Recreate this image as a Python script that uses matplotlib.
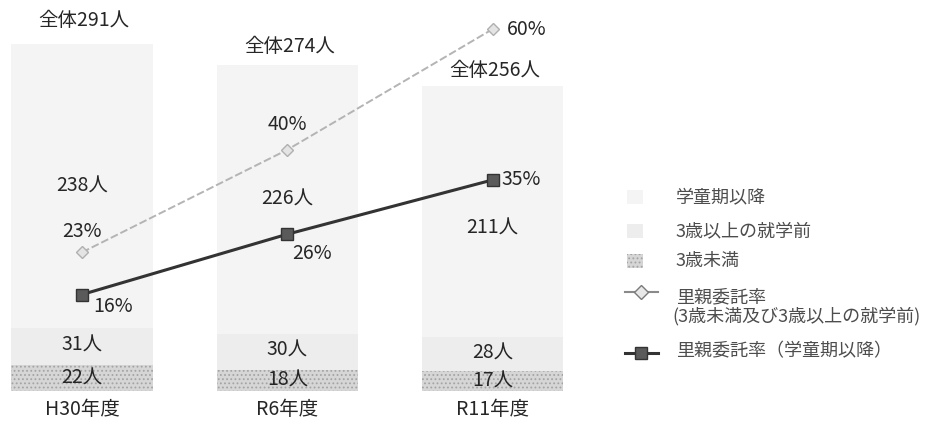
import numpy as np
import matplotlib.pyplot as plt
from matplotlib.patches import Rectangle
from matplotlib.lines import Line2D

plt.rcParams['font.family'] = ['Noto Sans CJK JP', 'DejaVu Sans']
plt.rcParams['hatch.linewidth'] = 0.8

# DATA
years = ['H30年度', 'R6年度', 'R11年度']
under3 = [22, 18, 17]          # 3歳未満
preschool = [31, 30, 28]       # 3歳以上の就学前
school = [238, 226, 211]       # 学童期以降
totals = [291, 274, 256]
rate_young = [23, 40, 60]      # 里親委託率(3歳未満及び3歳以上の就学前)
rate_school = [16, 26, 35]     # 里親委託率(学童期以降)

W, H = 944, 428
x = np.arange(len(years))
txt = '#262626'

fig = plt.figure(figsize=(W / 100, H / 100), dpi=100)
ax = fig.add_axes([0, 37 / H, 585 / W, 386 / H])
ax.set_xlim(-0.4, 2.45)
ax.set_ylim(0, 324)

bw = 0.69
ax.bar(x, under3, width=bw, color='#d6d6d6', edgecolor='#a4a4a4', linewidth=0, hatch='....')
ax.bar(x, preschool, width=bw, bottom=under3, color='#ededed', linewidth=0)
bottom2 = np.array(under3) + np.array(preschool)
ax.bar(x, school, width=bw, bottom=bottom2, color='#f4f4f4', linewidth=0)

# segment labels
for i in range(len(x)):
    ax.text(x[i], under3[i] / 2, f'{under3[i]}人', ha='center', va='center', fontsize=14, color=txt)
    ax.text(x[i], under3[i] + preschool[i] / 2 + 1, f'{preschool[i]}人', ha='center', va='center',
            fontsize=14, color=txt)
top_shift = [0, 0, -16]
for i in range(len(x)):
    ax.annotate(f'{school[i]}人', (x[i], bottom2[i] + school[i] / 2), xytext=(0, top_shift[i]),
                textcoords='offset pixels', ha='center', va='center', fontsize=14, color=txt)
tot_shift = [24, 18, 16]
for i in range(len(x)):
    ax.annotate(f'全体{totals[i]}人', (x[i], totals[i]), xytext=(2, tot_shift[i]),
                textcoords='offset pixels', ha='center', va='center', fontsize=14, color=txt)

ax.set_xticks(x)
ax.set_xticklabels(years, fontsize=14, color=txt)
ax.tick_params(axis='x', length=0, pad=6)
ax.set_yticks([])
for s in ax.spines.values():
    s.set_visible(False)

# rate lines on second axis
ax2 = ax.twinx()
ax2.set_ylim(0, 64)
ax2.plot(x, rate_young, color='#b4b4b4', lw=1.4, ls=(0, (4, 1.5)), marker='D', ms=6.5,
         mfc='#e4e4e4', mec='#b0b0b0')
ax2.plot(x, rate_school, color='#333333', lw=2.2, marker='s', ms=8, mfc='#5a5a5a', mec='#333333')
ax2.set_yticks([])
for s in ax2.spines.values():
    s.set_visible(False)

young_off = [(0, 21), (0, 25), (14, 0)]
young_ha = ['center', 'center', 'left']
for i in range(len(x)):
    ax2.annotate(f'{rate_young[i]}%', (x[i], rate_young[i]), xytext=young_off[i],
                 textcoords='offset pixels', ha=young_ha[i], va='center', fontsize=14, color=txt)
school_off = [(11, -12), (25, -19), (9, 0)]
school_ha = ['left', 'center', 'left']
for i in range(len(x)):
    ax2.annotate(f'{rate_school[i]}%', (x[i], rate_school[i]), xytext=school_off[i],
                 textcoords='offset pixels', ha=school_ha[i], va='center', fontsize=14, color=txt)


# LEGEND (drawn by hand, figure pixel coordinates from top-left)
def fx(px):
    return px / W


def fy(py):
    return 1 - py / H


lg = '#4d4d4d'
legend_patches = [
    (197, '#f4f4f4', None, '学童期以降'),
    (231, '#ededed', None, '3歳以上の就学前'),
    (261, '#d6d6d6', '....', '3歳未満'),
]
for py, fc, ht, lab in legend_patches:
    fig.add_artist(Rectangle((fx(627), fy(py + 7)), 16 / W, 14 / H, transform=fig.transFigure,
                             facecolor=fc, edgecolor='#a4a4a4', linewidth=0, hatch=ht))
    fig.text(fx(676), fy(py), lab, ha='left', va='center', fontsize=13, color=lg)

fig.add_artist(Line2D([fx(625), fx(658)], [fy(292), fy(292)], transform=fig.transFigure,
                      color='#8a8a8a', lw=1.5))
fig.add_artist(Line2D([fx(641)], [fy(292)], transform=fig.transFigure, marker='D', ms=7,
                      mfc='#e8e8e8', mec='#7a7a7a'))
fig.text(fx(676), fy(297), '里親委託率', ha='left', va='center', fontsize=13, color=lg)
fig.text(fx(672), fy(316), '(3歳未満及び3歳以上の就学前)', ha='left', va='center', fontsize=13, color=lg)

fig.add_artist(Line2D([fx(625), fx(658)], [fy(353), fy(353)], transform=fig.transFigure,
                      color='#333333', lw=2.2))
fig.add_artist(Line2D([fx(641)], [fy(353)], transform=fig.transFigure, marker='s', ms=8,
                      mfc='#5a5a5a', mec='#333333'))
fig.text(fx(676), fy(351), '里親委託率（学童期以降）', ha='left', va='center', fontsize=13, color=lg)

fig.savefig('out.png', dpi=100)
